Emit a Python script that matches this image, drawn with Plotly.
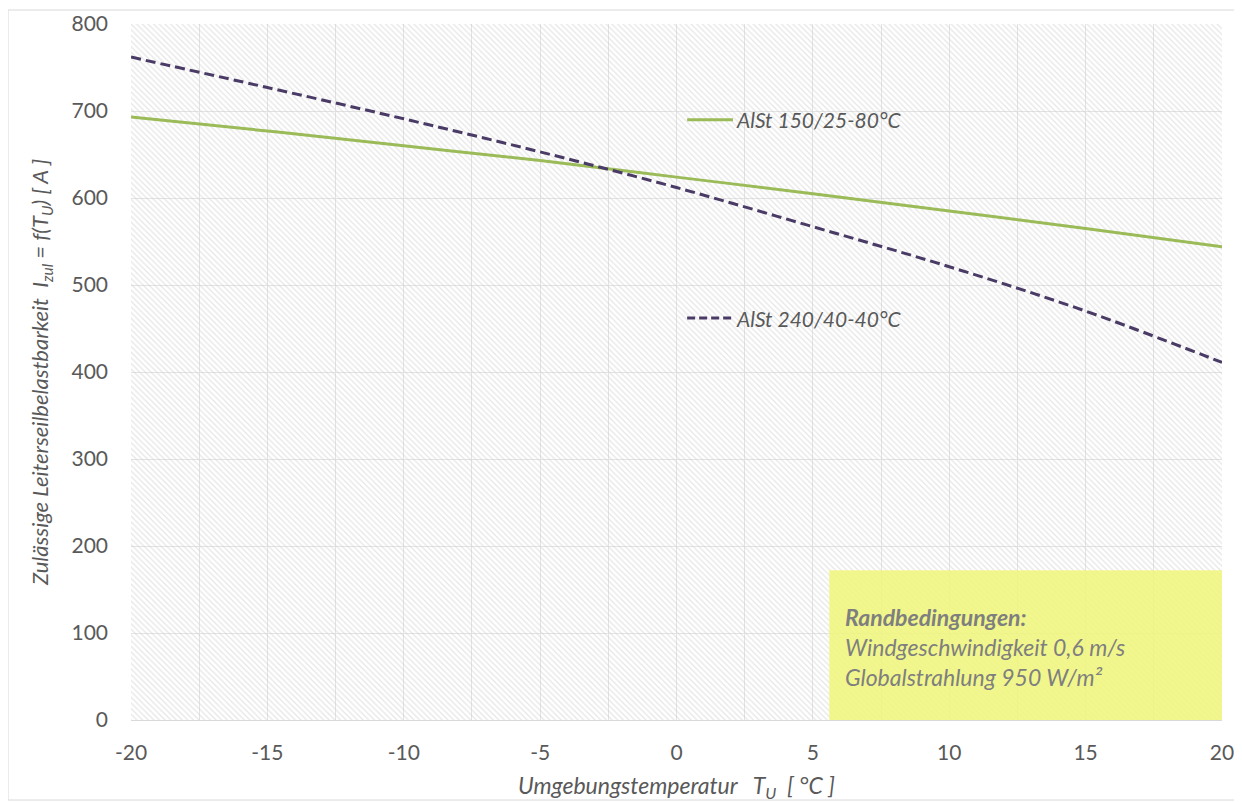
import plotly.graph_objects as go

# Data
temps = [-20, -15, -10, -5, 0, 5, 10, 15, 20]
alst150 = [693, 677, 660, 643, 624, 605, 585, 565, 544]
alst240 = [762, 727, 691, 653, 612, 567, 521, 470, 411]
name150 = "AlSt 150/25-80°C"
name240 = "AlSt 240/40-40°C"
xticks = [-20, -15, -10, -5, 0, 5, 10, 15, 20]
yticks = [0, 100, 200, 300, 400, 500, 600, 700, 800]

GREEN = "#9BBB59"
PURPLE = "#4A3B66"
TXT = "#595959"
FONT = "Lato"

fig = go.Figure()

# hatched plot background
fig.add_trace(go.Scatter(
    x=[-20, 20, 20, -20, -20], y=[0, 0, 800, 800, 0],
    mode="lines", line=dict(width=0), fill="toself",
    fillcolor="rgba(0,0,0,0)",
    fillpattern=dict(shape="\\", fgcolor="#cccccc", bgcolor="rgba(0,0,0,0)",
                     size=4, solidity=0.3),
    hoverinfo="skip", showlegend=False))

# yellow box
fig.add_trace(go.Scatter(
    x=[5.6, 20, 20, 5.6, 5.6], y=[0, 0, 172, 172, 0],
    mode="lines", line=dict(width=0), fill="toself",
    fillcolor="rgba(240,246,125,0.88)",
    hoverinfo="skip", showlegend=False))

fig.add_trace(go.Scatter(x=temps, y=alst150, mode="lines", name=name150,
                         line=dict(color=GREEN, width=3, shape="spline"), showlegend=False))
fig.add_trace(go.Scatter(x=temps, y=alst240, mode="lines", name=name240,
                         line=dict(color=PURPLE, width=3, dash="10px,5px", shape="spline"),
                         showlegend=False))

# legend-like labels
fig.add_shape(type="line", x0=0.39, x1=2.07, y0=690, y1=690, line=dict(color=GREEN, width=3))
fig.add_shape(type="line", x0=0.39, x1=2.07, y0=462, y1=462,
              line=dict(color=PURPLE, width=3, dash="8px,4px"))
fig.add_annotation(x=2.1, y=690, text="<i>" + name150 + "</i>", showarrow=False,
                   xanchor="left", font=dict(family=FONT, size=21, color=TXT))
fig.add_annotation(x=2.1, y=462, text="<i>" + name240 + "</i>", showarrow=False,
                   xanchor="left", font=dict(family=FONT, size=21, color=TXT))

fig.add_annotation(x=6.1, y=84,
                   text="<i><b>Randbedingungen:</b><br>Windgeschwindigkeit 0,6 m/s<br>Globalstrahlung 950 W/m²</i>",
                   showarrow=False, xanchor="left", yanchor="middle", align="left",
                   font=dict(family=FONT, size=23, color="#7f7f7f"))

# outer chart border
fig.add_shape(type="rect", xref="paper", yref="paper",
              x0=-0.1127, x1=1.0165, y0=-0.115, y1=1.0201,
              line=dict(color="#d9d9d9", width=1), fillcolor="rgba(0,0,0,0)")

fig.update_xaxes(range=[-20, 20], tickvals=xticks, ticktext=[str(v) for v in xticks],
                 automargin=False,
                 showgrid=True, gridcolor="#e3e3e3", gridwidth=1,
                 minor=dict(dtick=2.5, tick0=0, showgrid=True, gridcolor="#e3e3e3"),
                 zeroline=False, showline=True, linecolor="#d9d9d9", linewidth=1,
                 ticks="", ticklabelstandoff=14,
                 tickfont=dict(family=FONT, size=21, color=TXT),
                 title=dict(text="<i>Umgebungstemperatur   T<sub>U</sub>  [ °C ]</i>",
                            font=dict(family=FONT, size=23, color=TXT), standoff=14))
fig.update_yaxes(range=[0, 800], tickvals=yticks, ticktext=[str(v) for v in yticks],
                 automargin=False,
                 showgrid=True, gridcolor="#e3e3e3", gridwidth=1, zeroline=False,
                 ticks="", ticklabelstandoff=22,
                 tickfont=dict(family=FONT, size=21, color=TXT),
                 title=dict(text="<i>Zulässige Leiterseilbelastbarkeit  I<sub>zul</sub> = f(T<sub>U</sub>) [ A ]</i>",
                            font=dict(family=FONT, size=22, color=TXT), standoff=16))

fig.update_layout(width=1234, height=795, margin=dict(l=123, r=20, t=16, b=83),
                  plot_bgcolor="white", paper_bgcolor="white", showlegend=False)

fig.write_html("out.html")
